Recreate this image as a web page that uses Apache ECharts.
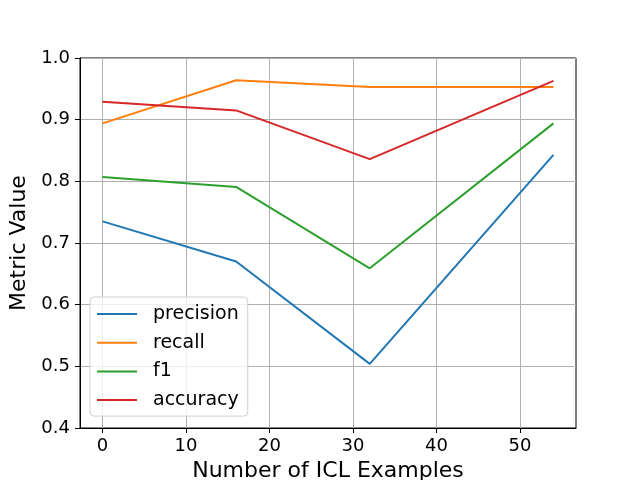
<!DOCTYPE html>
<html>
<head>
    <meta charset="UTF-8">
    <title>ICL metrics</title>
    <style>
        html, body { margin: 0; padding: 0; background: #fff; }
        #main { width: 640px; height: 480px; }
    </style>
    <script src="https://cdn.jsdelivr.net/npm/echarts@6/dist/echarts.min.js"></script>
</head>
<body>
    <div id="main"></div>
    <script type="text/javascript">
        // number of ICL examples
        var shots = [0, 16, 32, 54];
        var precision = [0.735, 0.670, 0.504, 0.843];
        var recall = [0.894, 0.964, 0.953, 0.953];
        var f1 = [0.807, 0.791, 0.659, 0.894];
        var accuracy = [0.929, 0.915, 0.836, 0.963];
        var xTicks = [0, 10, 20, 30, 40, 50];

        var font = 'DejaVu Sans';

        function pairs(ys) {
            return shots.map(function (x, i) { return [x, ys[i]]; });
        }

        function line(name, ys, color) {
            return {
                name: name,
                type: 'line',
                data: pairs(ys),
                showSymbol: false,
                symbol: 'none',
                lineStyle: { color: color, width: 2 },
                itemStyle: { color: color },
                animation: false
            };
        }

        var chart = echarts.init(document.getElementById('main'));
        var option = {
            animation: false,
            grid: {
                left: 80, top: 58, right: 64, bottom: 52,
                outerBoundsMode: 'none',
                containLabel: false,
                show: true, borderColor: '#000', borderWidth: 1,
                backgroundColor: 'transparent'
            },
            legend: {
                orient: 'vertical',
                left: 90, top: 297,
                padding: [7, 9, 6, 7],
                backgroundColor: 'rgba(255,255,255,0.8)',
                borderColor: '#d0d0d0', borderWidth: 1, borderRadius: 4,
                itemWidth: 40, itemHeight: 2,
                itemGap: 8.7,
                icon: 'rect',
                textStyle: { fontFamily: font, fontSize: 19, color: '#000', lineHeight: 20, padding: [0, 0, 0, 11] },
                data: ['precision', 'recall', 'f1', 'accuracy']
            },
            xAxis: {
                type: 'value',
                min: -2.7, max: 56.7,
                name: 'Number of ICL Examples',
                nameLocation: 'middle',
                nameGap: 30,
                nameTextStyle: { fontFamily: font, fontSize: 22, color: '#000' },
                axisLine: { show: true, onZero: false, lineStyle: { color: '#000', width: 1 } },
                axisTick: { show: true, length: 5, lineStyle: { color: '#000' }, customValues: xTicks },
                axisLabel: { fontFamily: font, fontSize: 18, color: '#000', margin: 9, customValues: xTicks },
                splitLine: { show: true, lineStyle: { color: '#b0b0b0', width: 1 } }
            },
            yAxis: {
                type: 'value',
                min: 0.4, max: 1.0, interval: 0.1,
                name: 'Metric Value',
                nameLocation: 'middle',
                nameGap: 46,
                nameTextStyle: { fontFamily: font, fontSize: 22, color: '#000' },
                axisLine: { show: true, onZero: false, lineStyle: { color: '#000', width: 1 } },
                axisTick: { show: true, length: 5, lineStyle: { color: '#000' } },
                axisLabel: {
                    fontFamily: font, fontSize: 18, color: '#000', margin: 10,
                    formatter: function (v) { return v.toFixed(1); }
                },
                splitLine: { show: true, lineStyle: { color: '#b0b0b0', width: 1 } }
            },
            series: [
                line('precision', precision, '#1f77b4'),
                line('recall', recall, '#ff7f0e'),
                line('f1', f1, '#2ca02c'),
                line('accuracy', accuracy, '#d62728')
            ]
        };
        chart.setOption(option);
    </script>
</body>
</html>
